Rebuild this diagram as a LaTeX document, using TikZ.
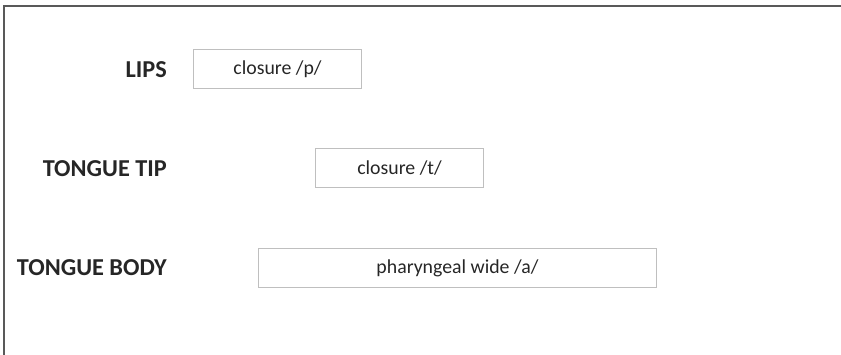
\documentclass[tikz,border=0pt]{standalone}
\usepackage{fontspec}
\setmainfont{Carlito}
\usepackage{tikz}
\usetikzlibrary{positioning}

\begin{document}
\begin{tikzpicture}[x=1pt,y=1pt,
node distance=26pt and 26pt,
  lnode/.style={anchor=east,inner sep=0pt,font=\fontsize{24.3}{29}\selectfont\bfseries,text=black!85},
  bnode/.style={draw=black!25,line width=1pt,rectangle,inner sep=0pt,minimum height=39pt,
    font=\fontsize{19.8}{24}\selectfont,text=black!85}
]
\useasboundingbox (0,0) rectangle (841,355);
\draw[black!65,line width=1.3pt] (4,0) -- (4,349) -- (841,349);
\node[lnode] (L) at (167,285.5) {LIPS};
\node[lnode] (T) at (167,186.5) {TONGUE TIP};
\node[lnode] (B) at (167,87) {TONGUE BODY};
\node[bnode,minimum width=168pt,right=of L] (P) {closure /p/};
\node[bnode,minimum width=168pt,anchor=west] (Q) at (315,186.5) {closure /t/};
\node[bnode,minimum width=398pt,anchor=west] (A) at (258,87) {pharyngeal wide /a/};
\end{tikzpicture}
\end{document}
